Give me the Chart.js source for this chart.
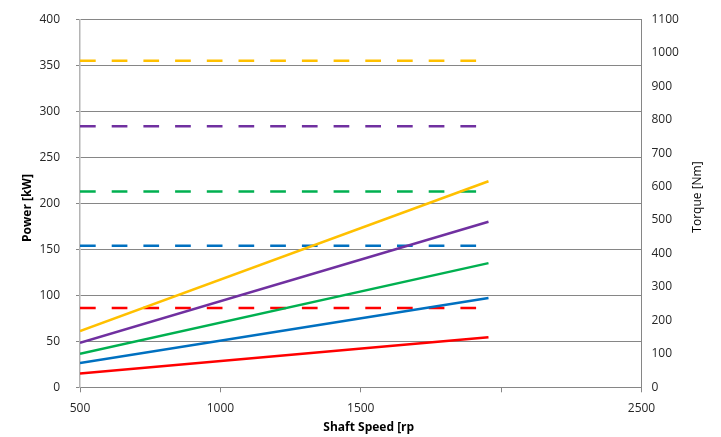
<!DOCTYPE html>
<html>
<head>
<meta charset="utf-8">
<script src="https://cdn.jsdelivr.net/npm/chart.js@4"></script>
<style>
  html, body { margin: 0; padding: 0; background: #fff; }
  #wrap { width: 721px; height: 437px; }
</style>
</head>
<body>
<div id="wrap"><canvas id="grafico" width="721" height="437"></canvas></div>
<script>
// rpm range of every curve
const velocidade = [500, 1955];

// power curves [kW] (left axis)
const potenciaAmarelo = [61, 224];
const potenciaRoxo = [48.5, 180];
const potenciaVerde = [36.5, 135];
const potenciaAzul = [26.5, 97];
const potenciaVermelho = [15, 54.5];

// torque lines [Nm] (right axis)
const torqueAmarelo = [976, 976];
const torqueRoxo = [780, 780];
const torqueVerde = [585, 585];
const torqueAzul = [423, 423];
const torqueVermelho = [237, 237];

const ticksX = [500, 1000, 1500, 2000, 2500];
const tituloX = 'Shaft Speed [rp';
const tituloEsq = 'Power [kW]';
const tituloDir = 'Torque [Nm]';

const cores = {
    amarelo: '#FFC000',
    roxo: '#7030A0',
    verde: '#00B050',
    azul: '#0070C0',
    vermelho: '#FF0000'
};

function pontos(valores) {
    return velocidade.map((v, i) => ({ x: v, y: valores[i] }));
}

function serie(label, valores, cor, eixo, tracejado) {
    return {
        label: label,
        data: pontos(valores),
        borderColor: cor,
        backgroundColor: cor,
        borderWidth: 2.5,
        borderDash: tracejado ? [15.7, 16] : [],
        pointRadius: 0,
        fill: false,
        yAxisID: eixo
    };
}

const fonteTicks = { family: '"Open Sans", sans-serif', size: 12 };

// axis titles drawn by hand (right one reads bottom-to-top like the reference)
const titulos = {
    id: 'titulos',
    afterDraw(chart) {
        const ctx = chart.ctx;
        const area = chart.chartArea;
        ctx.save();
        ctx.fillStyle = '#000';
        ctx.textAlign = 'center';
        ctx.textBaseline = 'middle';

        ctx.font = 'bold 12px "Open Sans", sans-serif';
        ctx.fillText(tituloX, (area.left + area.right) / 2 + 8, 428);

        ctx.save();
        ctx.translate(28, 208);
        ctx.rotate(-Math.PI / 2);
        ctx.fillText(tituloEsq, 0, 0);
        ctx.restore();

        ctx.font = '12px "Open Sans", sans-serif';
        ctx.save();
        ctx.translate(698, 197);
        ctx.rotate(-Math.PI / 2);
        ctx.fillText(tituloDir, 0, 0);
        ctx.restore();

        ctx.restore();
    }
};

function ajustaVertical(largura) {
    return (eixo) => {
        eixo.width = largura;
        eixo.paddingTop = 0;
        eixo.paddingBottom = 0;
    };
}

const grafico = new Chart(document.getElementById('grafico'), {
    type: 'line',
    data: {
        datasets: [
            serie('Power 1', potenciaVermelho, cores.vermelho, 'y', false),
            serie('Power 2', potenciaAzul, cores.azul, 'y', false),
            serie('Power 3', potenciaVerde, cores.verde, 'y', false),
            serie('Power 4', potenciaRoxo, cores.roxo, 'y', false),
            serie('Power 5', potenciaAmarelo, cores.amarelo, 'y', false),
            serie('Torque 1', torqueVermelho, cores.vermelho, 'y1', true),
            serie('Torque 2', torqueAzul, cores.azul, 'y1', true),
            serie('Torque 3', torqueVerde, cores.verde, 'y1', true),
            serie('Torque 4', torqueRoxo, cores.roxo, 'y1', true),
            serie('Torque 5', torqueAmarelo, cores.amarelo, 'y1', true)
        ]
    },
    options: {
        responsive: false,
        animation: false,
        layout: { padding: { top: 19.3, left: 0, right: 0, bottom: 0 } },
        plugins: {
            legend: { display: false },
            tooltip: { enabled: false }
        },
        scales: {
            x: {
                type: 'linear',
                min: 500,
                max: 2500,
                afterBuildTicks: (eixo) => { eixo.ticks = ticksX.map(v => ({ value: v })); },
                afterFit: (eixo) => { eixo.height = 49.7; },
                border: { color: '#868686', width: 1 },
                grid: { drawOnChartArea: false, drawTicks: true, tickLength: 5, color: '#868686' },
                ticks: {
                    font: fonteTicks,
                    color: '#262626',
                    padding: 9,
                    maxRotation: 0,
                    callback: (v) => v === 2000 ? '' : String(v)
                }
            },
            y: {
                position: 'left',
                min: 0,
                max: 400,
                afterFit: ajustaVertical(80),
                border: { color: '#b4b4b4', width: 1.5 },
                grid: { color: '#868686', tickLength: 4, lineWidth: 1 },
                ticks: { stepSize: 50, font: fonteTicks, color: '#262626', padding: 16 }
            },
            y1: {
                position: 'right',
                min: 0,
                max: 1100,
                afterFit: ajustaVertical(79.5),
                border: { color: '#868686', width: 1 },
                grid: { drawOnChartArea: false, drawTicks: false },
                ticks: {
                    stepSize: 100,
                    font: fonteTicks,
                    color: '#262626',
                    padding: 10,
                    callback: (v) => String(v)
                }
            }
        }
    },
    plugins: [titulos]
});
</script>
</body>
</html>
